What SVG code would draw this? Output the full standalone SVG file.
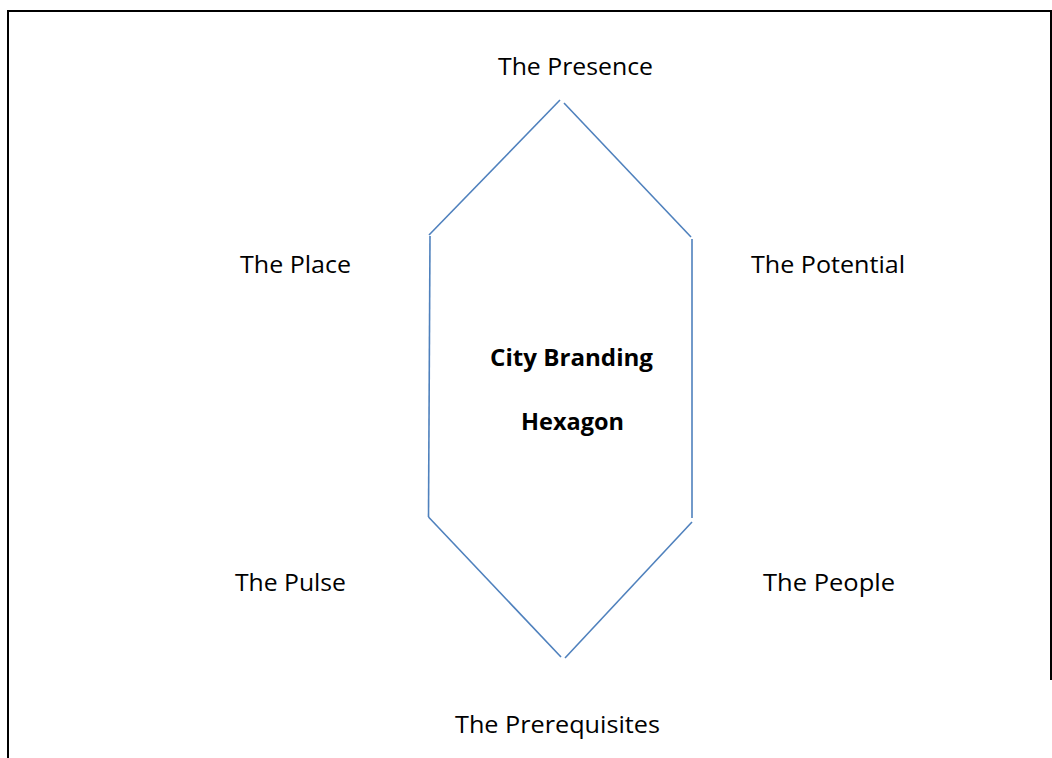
<svg xmlns="http://www.w3.org/2000/svg" width="1052" height="758" viewBox="0 0 1052 758">
  <style>
    .frame { stroke: #000; stroke-width: 2; fill: none; }
    .edge { stroke: #4F81BD; stroke-width: 1.6; fill: none; stroke-linecap: butt; }
    .lbl { font-family: "Open Sans", "Liberation Sans", sans-serif; font-size: 24px; fill: #000; }
    .title { font-family: "Open Sans", "Liberation Sans", sans-serif; font-size: 24px; font-weight: bold; fill: #000; }
  </style>
  <rect width="1052" height="758" fill="#fff"/>

  <!-- page frame: left, top and right rules -->
  <path class="frame" d="M8,758 V11 H1051 V680"/>

  <!-- hexagon outline, drawn as separate strokes -->
  <g id="connectors">
    <line class="edge" x1="560" y1="100" x2="429" y2="235"/>
    <line class="edge" x1="564" y1="103" x2="691" y2="237"/>
    <line class="edge" x1="430" y1="236" x2="428.5" y2="517"/>
    <line class="edge" x1="692" y1="239" x2="692" y2="518"/>
    <line class="edge" x1="428.5" y1="517" x2="561" y2="657"/>
    <line class="edge" x1="565" y1="658" x2="692" y2="522"/>
  </g>

  <g id="center">
    <text class="title" x="490" y="366" textLength="163" lengthAdjust="spacingAndGlyphs">City Branding</text>
    <text class="title" x="521" y="430" textLength="103" lengthAdjust="spacingAndGlyphs">Hexagon</text>
  </g>

  <g id="presence">
    <text class="lbl" x="498" y="75" textLength="155" lengthAdjust="spacingAndGlyphs">The Presence</text>
  </g>
  <g id="place">
    <text class="lbl" x="240" y="273" textLength="111" lengthAdjust="spacingAndGlyphs">The Place</text>
  </g>
  <g id="potential">
    <text class="lbl" x="751" y="273" textLength="154" lengthAdjust="spacingAndGlyphs">The Potential</text>
  </g>
  <g id="pulse">
    <text class="lbl" x="235" y="591" textLength="111" lengthAdjust="spacingAndGlyphs">The Pulse</text>
  </g>
  <g id="people">
    <text class="lbl" x="763" y="591" textLength="132" lengthAdjust="spacingAndGlyphs">The People</text>
  </g>
  <g id="prerequisites">
    <text class="lbl" x="455" y="733" textLength="205" lengthAdjust="spacingAndGlyphs">The Prerequisites</text>
  </g>
</svg>
